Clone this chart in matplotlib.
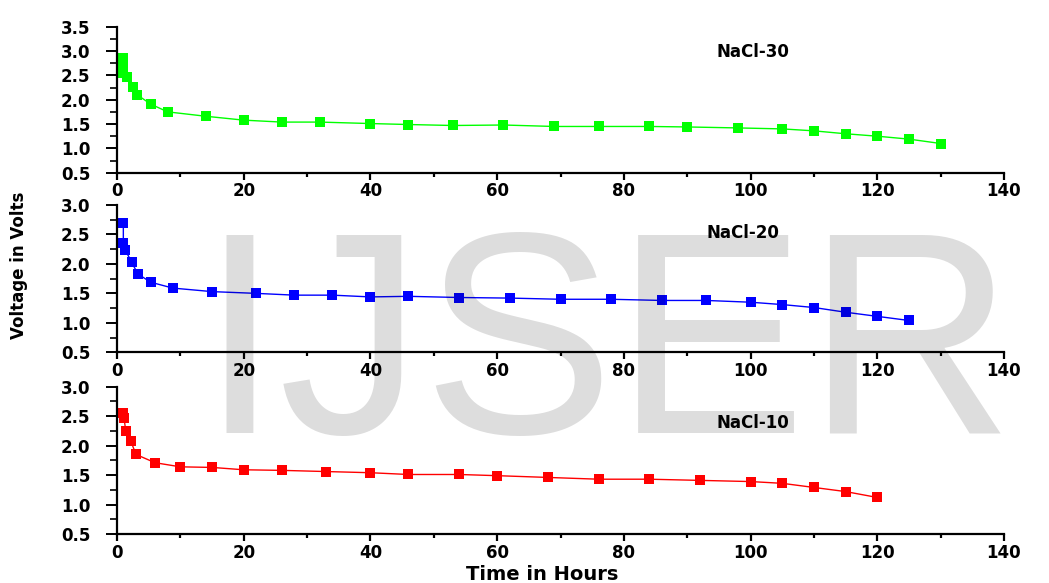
import numpy as np
import matplotlib
matplotlib.use("Agg")
import matplotlib.pyplot as plt
from matplotlib.ticker import MultipleLocator

# --- DATA ---
t30 = [1.0, 1.0, 1.0, 1.6, 2.5, 3.2, 5.3, 8, 14, 20, 26, 32, 40, 46, 53, 61,
       69, 76, 84, 90, 98, 105, 110, 115, 120, 125, 130]
v30 = [2.85, 2.70, 2.55, 2.46, 2.27, 2.10, 1.91, 1.75, 1.66, 1.58, 1.54, 1.54,
       1.51, 1.49, 1.47, 1.48, 1.45, 1.45, 1.45, 1.44, 1.42, 1.40, 1.36, 1.30,
       1.25, 1.19, 1.10]

t20 = [1.0, 1.0, 1.3, 2.3, 3.3, 5.3, 8.8, 15, 22, 28, 34, 40, 46, 54, 62,
       70, 78, 86, 93, 100, 105, 110, 115, 120, 125]
v20 = [2.69, 2.35, 2.24, 2.03, 1.83, 1.69, 1.59, 1.53, 1.50, 1.47, 1.47, 1.44,
       1.45, 1.43, 1.42, 1.40, 1.40, 1.38, 1.38, 1.35, 1.31, 1.26, 1.18, 1.11,
       1.04]

t10 = [0.9, 1.1, 1.4, 2.2, 3.0, 6.0, 10, 15, 20, 26, 33, 40, 46, 54, 60,
       68, 76, 84, 92, 100, 105, 110, 115, 120]
v10 = [2.55, 2.47, 2.24, 2.07, 1.85, 1.71, 1.64, 1.63, 1.59, 1.58, 1.56, 1.54,
       1.51, 1.51, 1.49, 1.46, 1.43, 1.43, 1.41, 1.39, 1.36, 1.29, 1.22, 1.12]

labels = ["NaCl-30", "NaCl-20", "NaCl-10"]
colors = ["#00ff00", "#0000ff", "#ff0000"]
ytops = [3.5, 3.0, 3.0]

fig = plt.figure(figsize=(10.49, 5.83), dpi=100)

W, H = 1049.0, 583.0
left, right = 117, 1004
rows = [(26.7, 172.7), (205.0, 352.3), (386.7, 534.0)]
label_pos = [(0.717, 0.827), (0.706, 0.81), (0.717, 0.754)]

series = [(t30, v30), (t20, v20), (t10, v10)]
for i, ((top, bot), (t, v)) in enumerate(zip(rows, series)):
    ax = fig.add_axes([left / W, 1 - bot / H, (right - left) / W, (bot - top) / H])
    ax.plot(t, v, color=colors[i], lw=1.0, marker='s', ms=7.2,
            markeredgewidth=0, clip_on=False)
    ax.set_xlim(0, 140)
    ax.set_ylim(0.5, ytops[i])
    ax.xaxis.set_major_locator(MultipleLocator(20))
    ax.xaxis.set_minor_locator(MultipleLocator(10))
    ax.yaxis.set_major_locator(MultipleLocator(0.5))
    ax.yaxis.set_minor_locator(MultipleLocator(0.25))
    ax.yaxis.set_major_formatter(matplotlib.ticker.FormatStrFormatter('%.1f'))
    for s in ['top', 'right']:
        ax.spines[s].set_visible(False)
    for s in ['left', 'bottom']:
        ax.spines[s].set_linewidth(1.6)
    ax.tick_params(axis='y', which='major', length=8, width=1.4, pad=11,
                   labelsize=12)
    ax.tick_params(axis='y', which='minor', length=5, width=1.2)
    ax.tick_params(axis='x', which='major', length=5, width=1.6, pad=2,
                   labelsize=12)
    ax.tick_params(axis='x', which='minor', length=3, width=1.6)
    for lab in ax.get_xticklabels() + ax.get_yticklabels():
        lab.set_fontweight('bold')
    ax.text(label_pos[i][0], label_pos[i][1], labels[i], transform=ax.transAxes,
            ha='center', va='center', fontsize=12, fontweight='bold')

fig.text(19 / W, 1 - 265 / H, "Voltage in Volts", rotation=90, ha='center',
         va='center', fontsize=12, fontweight='bold')
fig.text(542 / W, 1 - 575 / H, "Time in Hours", ha='center', va='center',
         fontsize=14, fontweight='bold')

# watermark, drawn over everything with transparency
fig.text(199 / W, 1 - 433 / H, "IJSER", family="Liberation Sans",
         fontsize=207, color='black', alpha=0.135, ha='left', va='baseline',
         zorder=100)

fig.savefig("out.png", dpi=100)
